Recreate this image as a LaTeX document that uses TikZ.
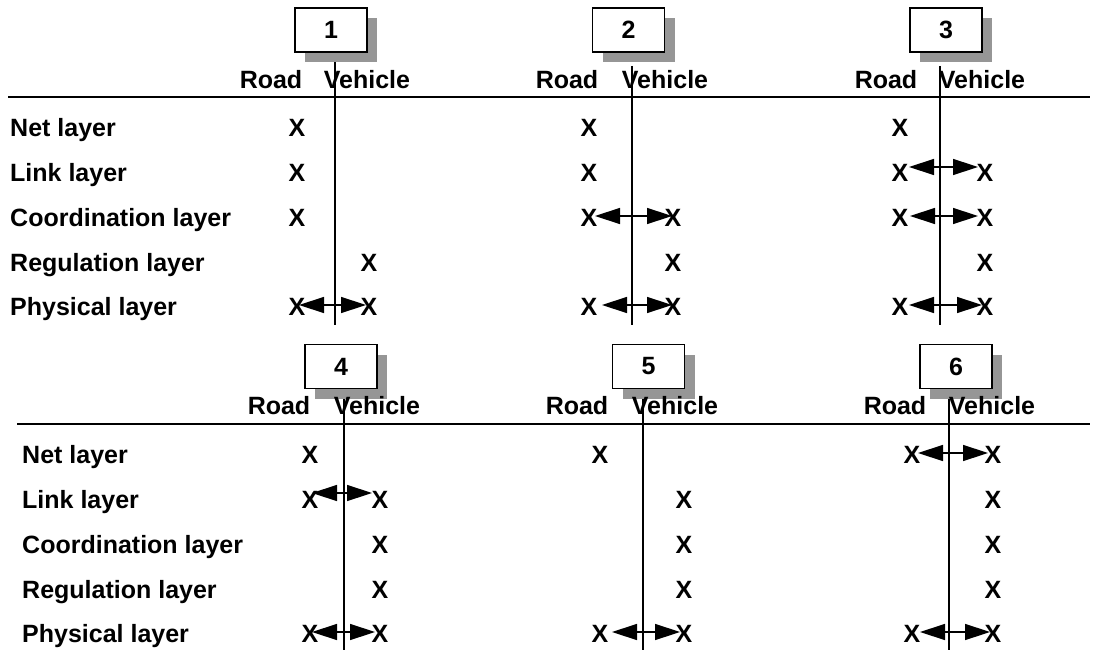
\documentclass[tikz,border=0pt]{standalone}
\usepackage{fontspec}
\setmainfont{Liberation Sans}
\usetikzlibrary{arrows.meta,shadows}
\definecolor{shadowgray}{RGB}{150,150,150}
\tikzset{
  txt/.style={font=\fontsize{25}{29}\selectfont\bfseries, inner sep=0pt,
    text height=17.9pt, text depth=0pt},
  rowlbl/.style={txt, anchor=west},
  xmark/.style={txt},
  numbox/.style={draw, line width=1.6pt, fill=white, minimum width=72pt,
    minimum height=44pt, inner sep=0pt, font=\fontsize{25}{29}\selectfont\bfseries,
    drop shadow={shadow xshift=10pt, shadow yshift=-10pt, opacity=1, fill=shadowgray}},
  rule/.style={line width=1.6pt},
  divider/.style={line width=1.6pt},
  link/.style={line width=1.4pt,
    {Triangle[length=25pt,width=16pt]}-{Triangle[length=25pt,width=16pt]}}
}
\begin{document}
\begin{tikzpicture}[x=1pt,y=-1pt]
\useasboundingbox (0,0) rectangle (1099,652);

% ---------- upper table ----------
\coordinate (hl1) at (8,97);  \coordinate (hr1) at (1090,97);
\draw[rule] (hl1) -- (hr1);
\node[rowlbl] (tnet)  at (10,128) {Net layer};
\node[rowlbl] (tlink) at (10,173) {Link layer};
\node[rowlbl] (tcoor) at (10,218) {Coordination layer};
\node[rowlbl] (treg)  at (10,263) {Regulation layer};
\node[rowlbl] (tphys) at (10,307) {Physical layer};

% panel 1
\coordinate (v1t) at (335,62); \coordinate (v1b) at (335,325);
\draw[divider] (v1t) -- (v1b);
\node[numbox] (b1) at (331,30) {1};
\node[txt] (road1) at (271,80) {Road};
\node[txt] (veh1)  at (367,80) {Vehicle};
\node[xmark] (x1a) at (297,128) {X};
\node[xmark] (x1b) at (297,173) {X};
\node[xmark] (x1c) at (297,218) {X};
\node[xmark] (x1d) at (369,263) {X};
\node[xmark] (x1e) at (297,307) {X};
\node[xmark] (x1f) at (369,307) {X};
\coordinate (a1l) at (299,305); \coordinate (a1r) at (366,305);
\draw[link] (a1l) -- (a1r);

% panel 2
\coordinate (v2t) at (632,66); \coordinate (v2b) at (632,325);
\draw[divider] (v2t) -- (v2b);
\node[numbox] (b2) at (628.5,30) {2};
\node[txt] (road2) at (567,80) {Road};
\node[txt] (veh2)  at (665,80) {Vehicle};
\node[xmark] (x2a) at (589,128) {X};
\node[xmark] (x2b) at (589,173) {X};
\node[xmark] (x2c) at (589,218) {X};
\node[xmark] (x2d) at (673,218) {X};
\node[xmark] (x2e) at (673,263) {X};
\node[xmark] (x2f) at (589,307) {X};
\node[xmark] (x2g) at (673,307) {X};
\coordinate (a2l) at (595,216); \coordinate (a2r) at (672,216);
\draw[link] (a2l) -- (a2r);
\coordinate (a2m) at (602,305); \coordinate (a2n) at (672,305);
\draw[link] (a2m) -- (a2n);

% panel 3
\coordinate (v3t) at (940,66); \coordinate (v3b) at (940,325);
\draw[divider] (v3t) -- (v3b);
\node[numbox] (b3) at (946,30) {3};
\node[txt] (road3) at (886,80) {Road};
\node[txt] (veh3)  at (982,80) {Vehicle};
\node[xmark] (x3a) at (900,128) {X};
\node[xmark] (x3b) at (900,173) {X};
\node[xmark] (x3c) at (985,173) {X};
\node[xmark] (x3d) at (900,218) {X};
\node[xmark] (x3e) at (985,218) {X};
\node[xmark] (x3f) at (985,263) {X};
\node[xmark] (x3g) at (900,307) {X};
\node[xmark] (x3h) at (985,307) {X};
\coordinate (a3l) at (909,167); \coordinate (a3r) at (978,167);
\draw[link] (a3l) -- (a3r);
\coordinate (a3m) at (910,216); \coordinate (a3n) at (978,216);
\draw[link] (a3m) -- (a3n);
\coordinate (a3o) at (909,305); \coordinate (a3p) at (982,305);
\draw[link] (a3o) -- (a3p);

% ---------- lower table ----------
\coordinate (hl2) at (17,424); \coordinate (hr2) at (1090,424);
\draw[rule] (hl2) -- (hr2);
\node[rowlbl] (bnet)  at (22,455) {Net layer};
\node[rowlbl] (blink) at (22,500) {Link layer};
\node[rowlbl] (bcoor) at (22,545) {Coordination layer};
\node[rowlbl] (breg)  at (22,590) {Regulation layer};
\node[rowlbl] (bphys) at (22,634) {Physical layer};

% panel 4
\coordinate (v4t) at (344,398); \coordinate (v4b) at (344,650);
\draw[divider] (v4t) -- (v4b);
\node[numbox] (b4) at (341,366.5) {4};
\node[txt] (road4) at (279,406) {Road};
\node[txt] (veh4)  at (377,406) {Vehicle};
\node[xmark] (x4a) at (310,455) {X};
\node[xmark] (x4b) at (310,500) {X};
\node[xmark] (x4c) at (380,500) {X};
\node[xmark] (x4d) at (380,545) {X};
\node[xmark] (x4e) at (380,590) {X};
\node[xmark] (x4f) at (310,634) {X};
\node[xmark] (x4g) at (380,634) {X};
\coordinate (a4l) at (312,493); \coordinate (a4r) at (372,493);
\draw[link] (a4l) -- (a4r);
\coordinate (a4m) at (312,632); \coordinate (a4n) at (375,632);
\draw[link] (a4m) -- (a4n);

% panel 5
\coordinate (v5t) at (643,398); \coordinate (v5b) at (643,650);
\draw[divider] (v5t) -- (v5b);
\node[numbox] (b5) at (648.5,366.5) {5};
\node[txt] (road5) at (577,406) {Road};
\node[txt] (veh5)  at (675,406) {Vehicle};
\node[xmark] (x5a) at (600,455) {X};
\node[xmark] (x5b) at (684,500) {X};
\node[xmark] (x5c) at (684,545) {X};
\node[xmark] (x5d) at (684,590) {X};
\node[xmark] (x5e) at (600,634) {X};
\node[xmark] (x5f) at (684,634) {X};
\coordinate (a5l) at (612,632); \coordinate (a5r) at (680,632);
\draw[link] (a5l) -- (a5r);

% panel 6
\coordinate (v6t) at (949,398); \coordinate (v6b) at (949,650);
\draw[divider] (v6t) -- (v6b);
\node[numbox] (b6) at (956,366.5) {6};
\node[txt] (road6) at (895,406) {Road};
\node[txt] (veh6)  at (992,406) {Vehicle};
\node[xmark] (x6a) at (912,455) {X};
\node[xmark] (x6b) at (993,455) {X};
\node[xmark] (x6c) at (993,500) {X};
\node[xmark] (x6d) at (993,545) {X};
\node[xmark] (x6e) at (993,590) {X};
\node[xmark] (x6f) at (912,634) {X};
\node[xmark] (x6g) at (993,634) {X};
\coordinate (a6l) at (918,453); \coordinate (a6r) at (988,453);
\draw[link] (a6l) -- (a6r);
\coordinate (a6m) at (920,632); \coordinate (a6n) at (990,632);
\draw[link] (a6m) -- (a6n);
\end{tikzpicture}
\end{document}
